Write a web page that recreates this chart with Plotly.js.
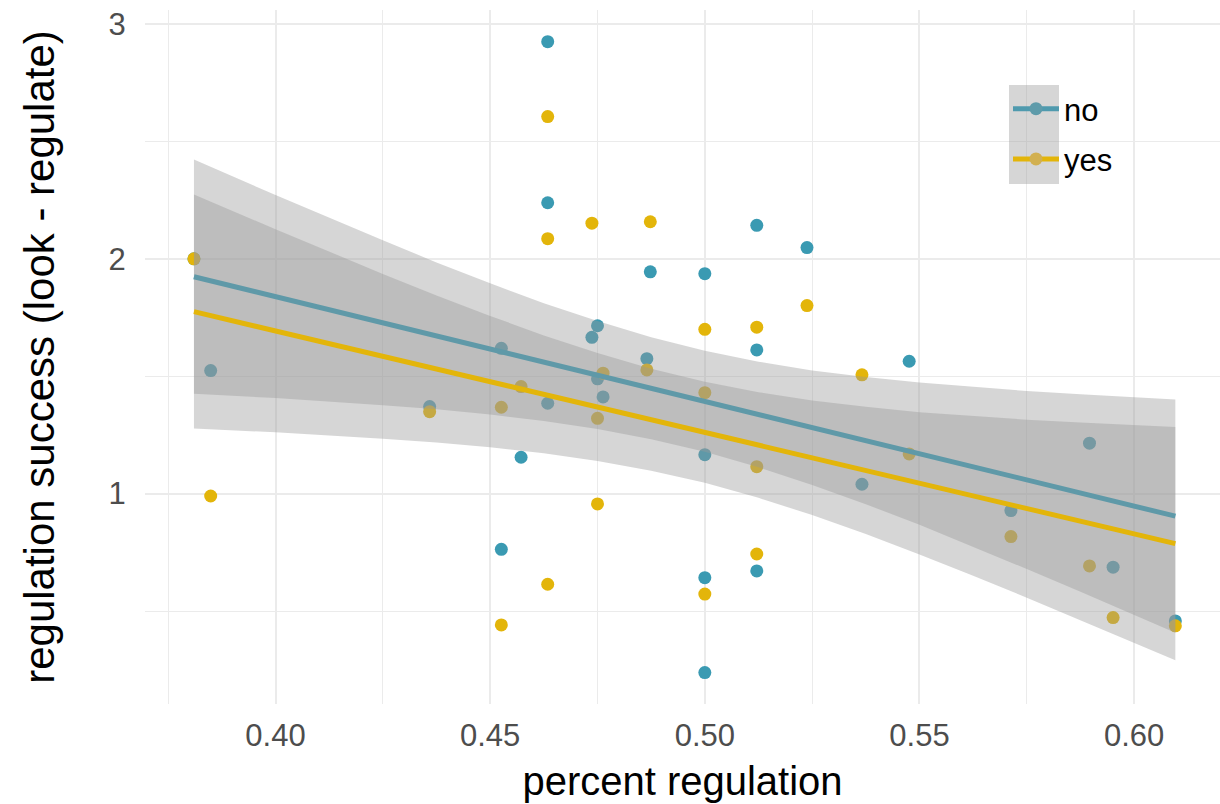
<!DOCTYPE html>
<html>
<head>
<meta charset="utf-8">
<script src="https://cdn.plot.ly/plotly-3.0.1.min.js"></script>
<style>html,body{margin:0;padding:0;background:#fff;}#chart{width:1220px;height:804px;}</style>
</head>
<body>
<div id="chart"></div>
<script>
// ---- data ----
const noX = [0.3810,0.3849,0.4359,0.4526,0.4526,0.4572,0.4634,0.4634,0.4634,0.4737,0.4750,0.4750,0.4763,0.4865,0.4873,0.5000,0.5000,0.5000,0.5000,0.5121,0.5121,0.5121,0.5238,0.5366,0.5476,0.5713,0.5896,0.5951,0.6096];
const noY = [2.000,1.524,1.371,1.619,0.763,1.155,2.925,2.239,1.385,1.666,1.715,1.489,1.412,1.575,1.945,1.937,1.166,0.642,0.238,2.143,1.612,0.671,2.048,1.040,1.564,0.928,1.215,0.687,0.458];

const yesX = [0.3810,0.3849,0.4359,0.4526,0.4526,0.4572,0.4634,0.4634,0.4634,0.4737,0.4750,0.4750,0.4763,0.4865,0.4873,0.5000,0.5000,0.5000,0.5121,0.5121,0.5121,0.5238,0.5366,0.5476,0.5713,0.5896,0.5951,0.6096];
const yesY = [2.000,0.990,1.349,1.368,0.441,1.456,2.606,2.086,0.614,2.152,1.321,0.956,1.513,1.527,2.158,1.700,1.430,0.572,1.709,1.115,0.743,1.801,1.506,1.169,0.817,0.692,0.472,0.437];

// fitted lines and confidence bands, read along these x positions
const fitX     = [0.3810,0.4000,0.4250,0.4375,0.4500,0.4625,0.4750,0.4875,0.5000,0.5125,0.5250,0.5375,0.5500,0.5625,0.5750,0.5875,0.6000,0.6096];
const noFit    = [1.924,1.839,1.728,1.672,1.616,1.560,1.505,1.449,1.393,1.337,1.281,1.226,1.170,1.114,1.058,1.002,0.947,0.904];
const noUpper  = [2.423,2.272,2.079,1.985,1.896,1.811,1.735,1.666,1.609,1.562,1.525,1.497,1.473,1.454,1.437,1.423,1.410,1.401];
const noLower  = [1.426,1.407,1.377,1.359,1.337,1.309,1.275,1.232,1.178,1.112,1.037,0.955,0.867,0.774,0.679,0.582,0.484,0.407];
const yesFit   = [1.775,1.693,1.585,1.531,1.477,1.423,1.369,1.315,1.261,1.207,1.153,1.099,1.044,0.990,0.936,0.882,0.828,0.787];
const yesUpper = [2.274,2.126,1.936,1.844,1.757,1.674,1.599,1.532,1.477,1.432,1.397,1.370,1.347,1.330,1.315,1.303,1.291,1.284];
const yesLower = [1.277,1.261,1.234,1.218,1.198,1.172,1.139,1.098,1.046,0.982,0.909,0.828,0.741,0.650,0.557,0.462,0.365,0.290];

const groups = ["no", "yes"];
const xTicks = [0.40, 0.45, 0.50, 0.55, 0.60];
const yTicks = [1, 2, 3];

// ---- styling ----
const TEAL = "#3A9AB2";
const GOLD = "#E3B50A";
const BAND = "rgba(153,153,153,0.4)";
const FONT = "Liberation Sans, Arial, Helvetica, sans-serif";

function band(x, up, lo) {
  return {
    x: x.concat(x.slice().reverse()),
    y: up.concat(lo.slice().reverse()),
    type: "scatter", mode: "lines", fill: "toself",
    fillcolor: BAND, line: {width: 0, color: "rgba(0,0,0,0)"},
    hoverinfo: "skip", showlegend: false
  };
}

const traces = [
  {x: noX, y: noY, type: "scatter", mode: "markers", marker: {color: TEAL, size: 13}, showlegend: false},
  {x: yesX, y: yesY, type: "scatter", mode: "markers", marker: {color: GOLD, size: 13}, showlegend: false},
  band(fitX, noUpper, noLower),
  {x: fitX, y: noFit, type: "scatter", mode: "lines", line: {color: TEAL, width: 5}, showlegend: false},
  band(fitX, yesUpper, yesLower),
  {x: fitX, y: yesFit, type: "scatter", mode: "lines", line: {color: GOLD, width: 5}, showlegend: false},
  // legend entries
  {x: [null], y: [null], type: "scatter", mode: "lines+markers", name: groups[0], legendgroup: "g1",
   line: {color: "#4F9AAE", width: 5}, marker: {color: "#5E9BAA", size: 13}},
  {x: [null], y: [null], type: "scatter", mode: "lines+markers", name: groups[1], legendgroup: "g2",
   line: {color: GOLD, width: 5}, marker: {color: "#D2B050", size: 13}}
];

const W = 1220, H = 804, L = 145, R = 0, T = 10, B = 100;
const pw = W - L - R, ph = H - T - B;
function px2paperX(p) { return (p - L) / pw; }
function px2paperY(p) { return 1 - (p - T) / ph; }

const layout = {
  width: W, height: H,
  margin: {l: L, r: R, t: T, b: B},
  paper_bgcolor: "#fff", plot_bgcolor: "#fff",
  font: {family: FONT, color: "#000"},
  showlegend: true,
  legend: {
    x: px2paperX(1008), y: px2paperY(82), xanchor: "left", yanchor: "top",
    bgcolor: "rgba(0,0,0,0)", font: {size: 31, family: FONT, color: "#000"},
    itemwidth: 46, tracegroupgap: 7, traceorder: "grouped"
  },
  xaxis: {
    range: [0.3696, 0.6200],
    tickvals: xTicks, ticktext: xTicks.map(v => v.toFixed(2)),
    showgrid: true, gridcolor: "#EBEBEB", gridwidth: 2,
    minor: {dtick: 0.025, tick0: 0, showgrid: true, gridcolor: "#EBEBEB", gridwidth: 1},
    zeroline: false, showline: false,
    ticks: "outside", ticklen: 4, tickcolor: "rgba(0,0,0,0)",
    tickfont: {size: 31, color: "#4D4D4D", family: FONT},
    title: {text: "percent regulation", font: {size: 40, color: "#000", family: FONT}, standoff: 14}
  },
  yaxis: {
    range: [0.104, 3.06],
    tickvals: yTicks, ticktext: yTicks.map(String),
    showgrid: true, gridcolor: "#EBEBEB", gridwidth: 2,
    minor: {dtick: 0.5, tick0: 0, showgrid: true, gridcolor: "#EBEBEB", gridwidth: 1},
    zeroline: false, showline: false,
    ticks: "outside", ticklen: 12, tickcolor: "rgba(0,0,0,0)",
    tickfont: {size: 31, color: "#4D4D4D", family: FONT},
    title: {text: "regulation success (look - regulate)", font: {size: 42, color: "#000", family: FONT}, standoff: 40}
  },
  shapes: [{
    type: "rect", xref: "paper", yref: "paper", layer: "above",
    x0: px2paperX(1009), x1: px2paperX(1059), y0: px2paperY(184), y1: px2paperY(85),
    fillcolor: "rgba(153,153,153,0.4)", line: {width: 0}
  }]
};

Plotly.newPlot("chart", traces, layout, {displayModeBar: false, staticPlot: true});
</script>
</body>
</html>
